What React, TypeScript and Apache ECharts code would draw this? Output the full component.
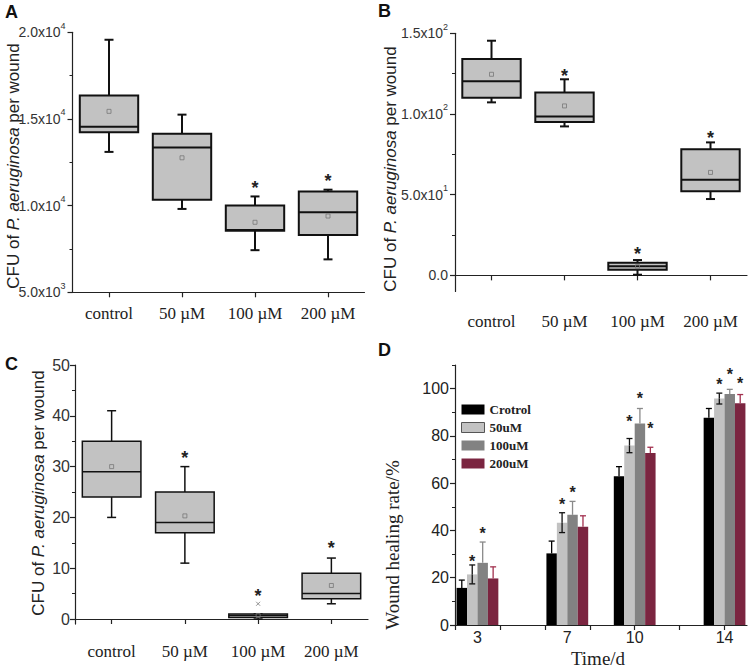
import React, { useEffect, useRef } from 'react';
import * as echarts from 'echarts';

// ---------- Data ----------
const groups = ['control', '50 µM', '100 µM', '200 µM'];

// Box statistics: [min, Q1, median, Q3, max]
const boxA = [
  [13100, 14240, 14550, 16350, 19570],
  [9810, 10340, 13360, 14140, 15250],
  [7430, 8550, 8590, 10010, 10530],
  [6900, 8300, 9620, 10820, 10920],
];
const meanA = [15440, 12760, 9040, 9400];
const starA = [null, null, 11300, 11700];

const boxB = [
  [107.2, 110.1, 120.3, 134.1, 145.4],
  [92.3, 95.0, 98.5, 113.3, 121.5],
  [0.4, 3.5, 5.6, 7.8, 9.5],
  [47.3, 52.1, 59.3, 78.2, 82.4],
];
const meanB = [124.6, 105.0, 5.4, 63.8];
const starB = [null, 126.5, 16.6, 88.4];

const boxC = [
  [20, 24, 29, 35, 41],
  [11, 17, 19, 25, 30],
  [0, 0.3, 0.7, 1.0, 1.0],
  [3, 4, 5, 9, 12],
];
const meanC = [30.0, 20.3, 0.7, 6.6];
const starC = [null, 32.7, 5.5, 15.0];
const outlierC = [null, null, 3, null];

const yTicksA = [5000, 10000, 15000, 20000];
const yMinorA = [7500, 12500, 17500];
const yTicksB = [0, 50, 100, 150];
const yMinorB = [25, 75, 125];
const yTicksC = [0, 10, 20, 30, 40, 50];
const yMinorC = [5, 15, 25, 35, 45];

// Panel D
const days = [3, 7, 10, 14];
const dTickDays = [2, 4, 6, 8, 10, 12, 14];
const healNames = ['Crotrol', '50uM', '100uM', '200uM'];
const healCtrl = [15.7, 30.3, 62.9, 87.7];
const heal50 = [21.4, 43.3, 75.9, 95.8];
const heal100 = [26.3, 46.6, 85.3, 97.7];
const heal200 = [19.7, 41.6, 72.8, 93.8];
const sdCtrl = [3.3, 5.2, 4.1, 3.9];
const sd50 = [4.0, 4.2, 3.0, 2.3];
const sd100 = [8.8, 5.7, 6.3, 2.0];
const sd200 = [4.9, 4.6, 2.4, 3.7];
const starCtrl = [null, null, null, null];
const star50 = [28.5, 52.7, 87.7, 103.3];
const star100 = [40.2, 57.9, 97.6, 107.5];
const star200 = [null, null, 84.8, 103.7];
const yTicksD = [0, 20, 40, 60, 80, 100];
const yMinorD = [10, 30, 50, 70, 90, 110];

// ---------- Styles ----------
const SANS = 'Liberation Sans';
const SERIF = 'Liberation Serif';
const AX = '#222';

const sci = (v: number) => {
  if (v === 0) return '{m|0.0}';
  const e = Math.floor(Math.log10(v) + 1e-9);
  const m = (v / Math.pow(10, e)).toFixed(1);
  return `{m|${m}x10}{e|${e}}`;
};
const sciRich = {
  m: { fontFamily: SANS, fontSize: 14, color: '#333', lineHeight: 22 },
  e: { fontFamily: SANS, fontSize: 9, color: '#333', lineHeight: 11, verticalAlign: 'top' },
};

function boxRenderer(box: number[][], mean: number[], star: (number | null)[], outlier: (number | null)[] | null, lw: number) {
  return (params: any, api: any) => {
    const i = params.dataIndex;
    const [mn, q1, md, q3, mx] = box[i];
    const cx = api.coord([i, md])[0];
    const bw = api.size([1, 0])[0] * 0.8;
    const y = (v: number) => api.coord([i, v])[1];
    const cap = 4.5;
    const ls = { stroke: '#111', lineWidth: lw, fill: null };
    const children: any[] = [
      { type: 'line', shape: { x1: cx, y1: y(mx), x2: cx, y2: y(q3) }, style: ls },
      { type: 'line', shape: { x1: cx, y1: y(q1), x2: cx, y2: y(mn) }, style: ls },
      { type: 'line', shape: { x1: cx - cap, y1: y(mx), x2: cx + cap, y2: y(mx) }, style: ls },
      { type: 'line', shape: { x1: cx - cap, y1: y(mn), x2: cx + cap, y2: y(mn) }, style: ls },
      {
        type: 'rect',
        shape: { x: cx - bw / 2, y: y(q3), width: bw, height: y(q1) - y(q3) },
        style: { fill: '#c2c2c2', stroke: '#111', lineWidth: lw },
      },
      { type: 'line', shape: { x1: cx - bw / 2, y1: y(md), x2: cx + bw / 2, y2: y(md) }, style: ls },
      {
        type: 'rect',
        shape: { x: cx - 2, y: y(mean[i]) - 2, width: 4, height: 4 },
        style: { fill: null, stroke: '#777', lineWidth: 0.8 },
      },
    ];
    const s = star[i];
    if (s != null) {
      children.push({
        type: 'text',
        style: { text: '*', x: cx, y: y(s) + 5, align: 'center', verticalAlign: 'middle', font: `bold 18px "${SANS}"`, fill: '#222' },
      });
    }
    const o = outlier ? outlier[i] : null;
    if (o != null) {
      const oy = y(o);
      const os = { stroke: '#777', lineWidth: 0.8 };
      children.push({ type: 'line', shape: { x1: cx - 2, y1: oy - 2, x2: cx + 2, y2: oy + 2 }, style: os });
      children.push({ type: 'line', shape: { x1: cx - 2, y1: oy + 2, x2: cx + 2, y2: oy - 2 }, style: os });
    }
    return { type: 'group', children };
  };
}

function barRenderer(k: number, vals: number[], sds: number[], stars: (number | null)[], errColor: string, both: boolean) {
  return (params: any, api: any) => {
    const i = params.dataIndex;
    const d = days[i];
    const base = api.coord([d, 0]);
    const top = api.coord([d, vals[i]]);
    const bw = api.size([1, 0])[0] * 0.465;
    const cx = base[0] + (k - 1.5) * bw;
    const yU = api.coord([d, vals[i] + sds[i]])[1];
    const es = { stroke: errColor, lineWidth: 1.3 };
    const children: any[] = [
      { type: 'rect', shape: { x: cx - bw / 2, y: top[1], width: bw, height: base[1] - top[1] }, style: { fill: api.visual('color') } },
      { type: 'line', shape: { x1: cx, y1: top[1], x2: cx, y2: yU }, style: es },
      { type: 'line', shape: { x1: cx - 3, y1: yU, x2: cx + 3, y2: yU }, style: es },
    ];
    if (both) {
      const yD = api.coord([d, vals[i] - sds[i]])[1];
      children.push({ type: 'line', shape: { x1: cx, y1: top[1], x2: cx, y2: yD }, style: es });
      children.push({ type: 'line', shape: { x1: cx - 3, y1: yD, x2: cx + 3, y2: yD }, style: es });
    }
    const s = stars[i];
    if (s != null) {
      const sy = api.coord([d, s])[1];
      children.push({
        type: 'text',
        style: { text: '*', x: cx, y: sy + 4, align: 'center', verticalAlign: 'middle', font: `bold 16px "${SANS}"`, fill: '#222' },
      });
    }
    return { type: 'group', children };
  };
}

const catX = (gridIndex: number, margin: number) => ({
  gridIndex,
  type: 'category',
  data: groups,
  boundaryGap: true,
  axisLine: { show: true, lineStyle: { color: AX, width: 1.2 } },
  axisTick: { show: true, alignWithLabel: true, length: 5, lineStyle: { color: AX, width: 1.2 } },
  axisLabel: { fontFamily: SERIF, fontSize: 17, color: '#222', margin },
  splitLine: { show: false },
});

const valY = (gridIndex: number, min: number, max: number, ticks: number[], label: any) => ({
  gridIndex,
  type: 'value',
  min,
  max,
  position: 'left',
  axisLine: { show: true, lineStyle: { color: AX, width: 1.2 } },
  axisTick: { show: true, length: 5, customValues: ticks, lineStyle: { color: AX, width: 1.2 } },
  axisLabel: { customValues: ticks, ...label },
  splitLine: { show: false },
});

const minorY = (gridIndex: number, min: number, max: number, ticks: number[]) => ({
  gridIndex,
  type: 'value',
  min,
  max,
  position: 'left',
  axisLine: { show: false },
  axisTick: { show: true, length: 3, customValues: ticks, lineStyle: { color: AX, width: 1 } },
  axisLabel: { show: false },
  splitLine: { show: false },
});

const yTitle = (x: number, y: number) => ({
  type: 'text',
  x,
  y,
  rotation: Math.PI / 2,
  style: {
    text: '{n|CFU of }{i|P. aeruginosa}{n| per wound}',
    align: 'center',
    verticalAlign: 'middle',
    rich: {
      n: { fontFamily: SANS, fontSize: 17, fill: '#222', color: '#222' },
      i: { fontFamily: SANS, fontSize: 17, fontStyle: 'italic', fill: '#222', color: '#222' },
    },
  },
});

const letter = (t: string, x: number, y: number) => ({
  type: 'text',
  x,
  y,
  style: { text: t, font: `bold 18px "${SANS}"`, fill: '#111', align: 'left', verticalAlign: 'top' },
});

export default function App() {
  const ref = useRef<HTMLDivElement>(null);
  useEffect(() => {
    if (!ref.current) return;
    const chart = echarts.init(ref.current, undefined, { renderer: 'svg' });
    const healVals = [healCtrl, heal50, heal100, heal200];
    const healSds = [sdCtrl, sd50, sd100, sd200];
    const healStars = [starCtrl, star50, star100, star200];
    const healColors = ['#000000', '#c2c2c2', '#828282', '#7b2540'];
    const errColors = ['#000000', '#111111', '#8a8a8a', '#a2304e'];

    const option: any = {
      animation: false,
      backgroundColor: '#ffffff',
      grid: [
        { left: 72.5, top: 32.3, width: 292, height: 260, outerBoundsMode: 'none', show: false },
        { left: 455, top: 33.3, width: 292, height: 258.2, outerBoundsMode: 'none', show: false },
        { left: 75, top: 365, width: 293, height: 259.1, outerBoundsMode: 'none', show: false },
        { left: 455, top: 365, width: 292, height: 260, outerBoundsMode: 'none', show: false },
      ],
      xAxis: [
        catX(0, 13),
        catX(1, 21),
        catX(2, 19),
        {
          gridIndex: 3,
          type: 'value',
          min: 2,
          max: 15,
          axisLine: { show: true, lineStyle: { color: AX, width: 1.2 } },
          axisTick: { show: true, length: 5, customValues: dTickDays, lineStyle: { color: AX, width: 1.2 } },
          axisLabel: { show: false },
          splitLine: { show: false },
        },
        {
          gridIndex: 3,
          type: 'value',
          min: 2,
          max: 15,
          position: 'bottom',
          axisLine: { show: false },
          axisTick: { show: false },
          axisLabel: { customValues: days, fontFamily: SANS, fontSize: 16, color: '#222', margin: 4 },
          splitLine: { show: false },
        },
      ],
      yAxis: [
        valY(0, 5000, 20000, yTicksA, { formatter: sci, rich: sciRich, margin: 7 }),
        valY(1, -10, 150, yTicksB, { formatter: sci, rich: sciRich, margin: 7 }),
        valY(2, -1, 50, yTicksC, { fontFamily: SANS, fontSize: 16, color: '#333', margin: 5 }),
        valY(3, 0, 110, yTicksD, { fontFamily: SANS, fontSize: 16, color: '#222', margin: 6 }),
        minorY(0, 5000, 20000, yMinorA),
        minorY(1, -10, 150, yMinorB),
        minorY(2, -1, 50, yMinorC),
        minorY(3, 0, 110, yMinorD),
      ],
      legend: {
        show: true,
        orient: 'vertical',
        left: 461,
        top: 403,
        itemWidth: 23,
        itemHeight: 10,
        itemGap: 5,
        padding: 0,
        icon: 'rect',
        textStyle: { fontFamily: SERIF, fontWeight: 'bold', fontSize: 13, color: '#222' },
        data: healNames.map((n, k) => ({
          name: n,
          itemStyle: k === 1 ? { color: healColors[1], borderColor: '#555', borderWidth: 1 } : { color: healColors[k] },
        })),
      },
      series: [
        {
          type: 'custom',
          name: 'A',
          xAxisIndex: 0,
          yAxisIndex: 0,
          renderItem: boxRenderer(boxA, meanA, starA, null, 2),
          data: groups.map((_, i) => [i, boxA[i][2]]),
          encode: { x: 0, y: 1 },
        },
        {
          type: 'custom',
          name: 'B',
          xAxisIndex: 1,
          yAxisIndex: 1,
          renderItem: boxRenderer(boxB, meanB, starB, null, 2),
          data: groups.map((_, i) => [i, boxB[i][2]]),
          encode: { x: 0, y: 1 },
        },
        {
          type: 'custom',
          name: 'C',
          xAxisIndex: 2,
          yAxisIndex: 2,
          renderItem: boxRenderer(boxC, meanC, starC, outlierC, 1.5),
          data: groups.map((_, i) => [i, boxC[i][2]]),
          encode: { x: 0, y: 1 },
        },
        ...healNames.map((n, k) => ({
          type: 'custom',
          name: n,
          xAxisIndex: 3,
          yAxisIndex: 3,
          itemStyle: { color: healColors[k] },
          renderItem: barRenderer(k, healVals[k], healSds[k], healStars[k], errColors[k], k === 1),
          data: days.map((d, i) => [d, healVals[k][i]]),
          encode: { x: 0, y: 1 },
        })),
      ],
      graphic: [
        letter('A', 5, 3),
        letter('B', 378, 2),
        letter('C', 5, 355),
        letter('D', 378, 341),
        yTitle(13, 166),
        yTitle(390, 169),
        yTitle(38, 493),
        {
          type: 'text',
          x: 392,
          y: 545,
          rotation: Math.PI / 2,
          style: { text: 'Wound healing rate/%', font: `19px "${SERIF}"`, fill: '#222', align: 'center', verticalAlign: 'middle' },
        },
        {
          type: 'text',
          x: 598,
          y: 658,
          style: { text: 'Time/d', font: `19px "${SERIF}"`, fill: '#222', align: 'center', verticalAlign: 'middle' },
        },
      ],
    };
    chart.setOption(option);
    return () => chart.dispose();
  }, []);
  return <div ref={ref} style={{ position: 'fixed', left: 0, top: 0, width: 750, height: 667 }} />;
}
